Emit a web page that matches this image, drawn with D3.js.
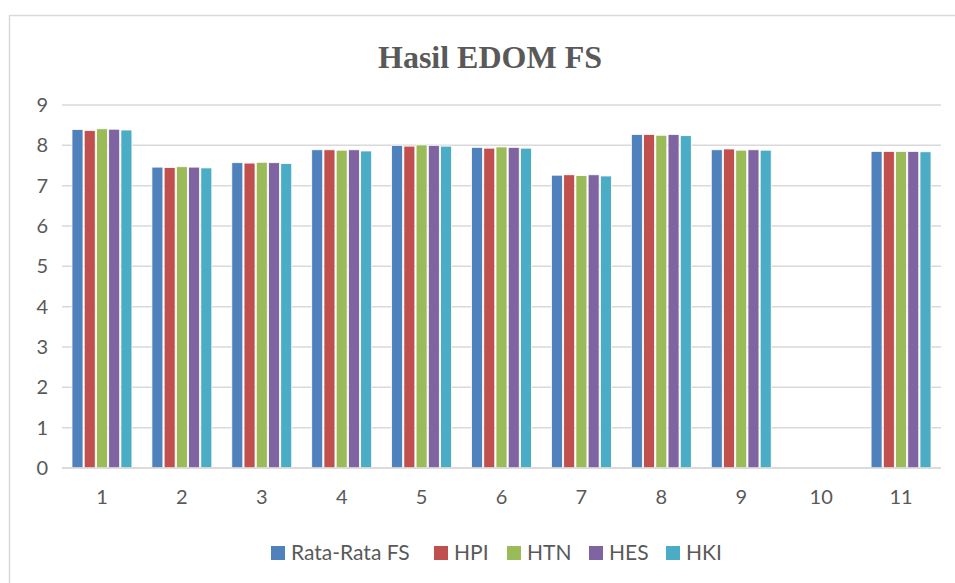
<!DOCTYPE html>
<html>
<head>
<meta charset="utf-8">
<script src="https://cdn.jsdelivr.net/npm/d3@7"></script>
<style>
  html, body { margin: 0; padding: 0; background: #fff; }
  svg { display: block; }
</style>
</head>
<body>
<svg id="chart" width="955" height="583"></svg>
<script>
const TITLE = 'Hasil EDOM FS';

const categories = ['1', '2', '3', '4', '5', '6', '7', '8', '9', '10', '11'];
const seriesNames = ['Rata-Rata FS', 'HPI', 'HTN', 'HES', 'HKI'];
const seriesColors = ['#4F81BD', '#C0504D', '#9BBB59', '#8064A2', '#4BACC6'];

// one array per series, null = no data (category 10)
const rataRataFS = [8.39, 7.46, 7.57, 7.89, 8.00, 7.95, 7.26, 8.27, 7.89, null, 7.85];
const hpi        = [8.37, 7.45, 7.56, 7.89, 7.98, 7.93, 7.27, 8.27, 7.91, null, 7.85];
const htn        = [8.41, 7.47, 7.58, 7.88, 8.01, 7.96, 7.25, 8.25, 7.88, null, 7.85];
const hes        = [8.40, 7.46, 7.57, 7.89, 8.00, 7.95, 7.27, 8.27, 7.89, null, 7.85];
const hki        = [8.38, 7.44, 7.55, 7.86, 7.98, 7.93, 7.24, 8.24, 7.88, null, 7.84];

const yTicks = [0, 1, 2, 3, 4, 5, 6, 7, 8, 9];

const allSeries = [rataRataFS, hpi, htn, hes, hki];

const TEXT_COLOUR = '#595959';
const GRID_COLOUR = '#d9d9d9';
const LABEL_FONT = 'Lato, "Open Sans", sans-serif';

const svg = d3.select('#chart');

// outer chart border
svg.append('rect')
    .attr('x', 9.5)
    .attr('y', 15.5)
    .attr('width', 1000)
    .attr('height', 700)
    .attr('fill', '#fff')
    .attr('stroke', GRID_COLOUR)
    .attr('stroke-width', 1.5);

svg.append('text')
    .attr('x', 490)
    .attr('y', 68)
    .attr('text-anchor', 'middle')
    .attr('font-family', '"Liberation Serif", "Times New Roman", serif')
    .attr('font-weight', 'bold')
    .attr('font-size', 32)
    .attr('fill', TEXT_COLOUR)
    .text(TITLE);

const x0 = d3.scaleBand()
    .domain(categories)
    .range([62, 941])
    .paddingInner(0.25)
    .paddingOuter(0.125);

const x1 = d3.scaleBand()
    .domain(seriesNames)
    .range([0, x0.bandwidth()])
    .paddingInner(0.1);

const y = d3.scaleLinear()
    .domain([0, 9])
    .range([468, 105]);

// gridlines
svg.append('g')
    .selectAll('line')
    .data(yTicks)
    .join('line')
    .attr('x1', 62)
    .attr('x2', 941)
    .attr('y1', d => y(d))
    .attr('y2', d => y(d))
    .attr('stroke', GRID_COLOUR)
    .attr('stroke-width', 1.5);

// y axis labels
const yAxis = svg.append('g')
    .attr('transform', 'translate(57,0)')
    .call(d3.axisLeft(y).tickValues(yTicks).tickSize(0).tickPadding(9).tickFormat(d3.format('d')));
yAxis.select('.domain').remove();
yAxis.selectAll('text')
    .attr('font-family', LABEL_FONT)
    .attr('font-size', 20)
    .attr('fill', TEXT_COLOUR);

// x axis labels
const xAxis = svg.append('g')
    .attr('transform', `translate(0,${y(0)})`)
    .call(d3.axisBottom(x0).tickSize(0).tickPadding(22));
xAxis.select('.domain').remove();
xAxis.selectAll('text')
    .attr('font-family', LABEL_FONT)
    .attr('font-size', 20)
    .attr('fill', TEXT_COLOUR);

// bars
const groups = svg.append('g')
    .selectAll('g')
    .data(categories)
    .join('g')
    .attr('transform', d => `translate(${x0(d)},0)`);

groups.selectAll('rect')
    .data((cat, ci) => seriesNames
        .map((name, si) => ({ name, color: seriesColors[si], value: allSeries[si][ci] }))
        .filter(d => d.value !== null))
    .join('rect')
    .attr('x', d => x1(d.name))
    .attr('y', d => y(d.value))
    .attr('width', x1.bandwidth())
    .attr('height', d => y(0) - y(d.value))
    .attr('fill', d => d.color)
    .attr('stroke', '#fff')
    .attr('stroke-width', 0.8);

// baseline on top of bars
svg.append('line')
    .attr('x1', 62)
    .attr('x2', 941)
    .attr('y1', y(0))
    .attr('y2', y(0))
    .attr('stroke', GRID_COLOUR)
    .attr('stroke-width', 1.5);

// legend
const legendX = [271, 434, 507, 589, 666];
const legend = svg.append('g')
    .selectAll('g')
    .data(seriesNames)
    .join('g')
    .attr('transform', (d, i) => `translate(${legendX[i]},546)`);

legend.append('rect')
    .attr('width', 14)
    .attr('height', 14)
    .attr('fill', (d, i) => seriesColors[i]);

legend.append('text')
    .attr('x', 20)
    .attr('y', 14)
    .attr('font-family', LABEL_FONT)
    .attr('font-size', 21)
    .attr('fill', TEXT_COLOUR)
    .text(d => d);
</script>
</body>
</html>
